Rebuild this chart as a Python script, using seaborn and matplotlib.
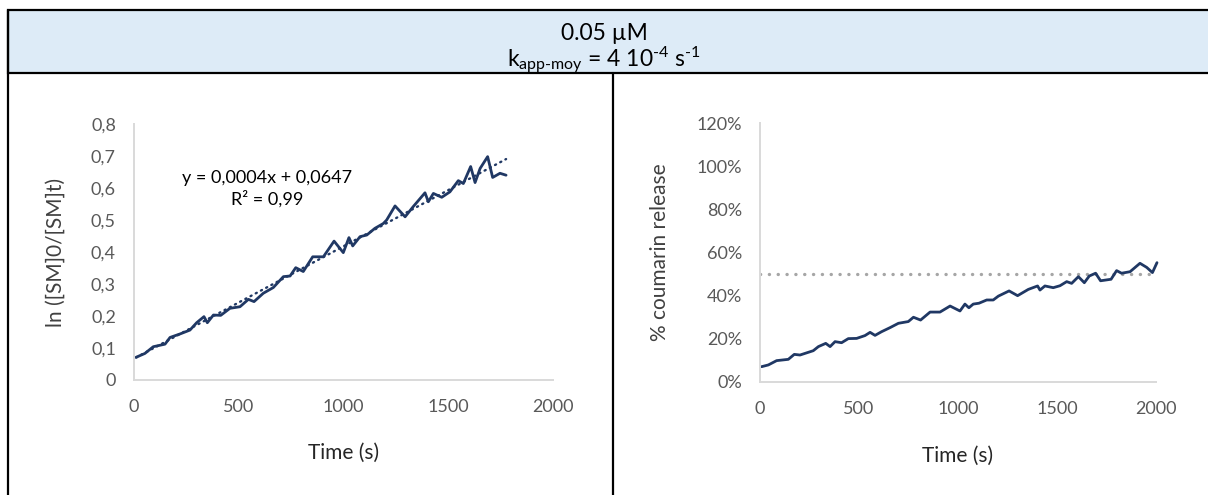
"""
Coumarin release kinetics at 0.05 uM: linearised plot and % release
"""

import numpy as np
import pandas as pd
import matplotlib
matplotlib.use("Agg")
import matplotlib.pyplot as plt
from matplotlib.patches import Rectangle
from matplotlib.lines import Line2D
import seaborn as sns

# ---- data ----
time_ln = [10, 52, 92, 148, 172, 220, 267, 299, 334, 350, 379, 414, 458, 506,
           546, 573, 617, 665, 713, 745, 772, 808, 853, 904, 955, 999, 1026,
           1044, 1079, 1111, 1150, 1190, 1206, 1246, 1294, 1333, 1389, 1405,
           1429, 1469, 1508, 1548, 1572, 1607, 1628, 1652, 1688, 1712, 1747, 1776]
ln_ratio = [0.071, 0.083, 0.104, 0.112, 0.133, 0.144, 0.156, 0.179, 0.198, 0.179,
            0.203, 0.202, 0.224, 0.229, 0.252, 0.245, 0.271, 0.289, 0.323, 0.325,
            0.351, 0.339, 0.385, 0.385, 0.434, 0.398, 0.445, 0.419, 0.448, 0.453,
            0.474, 0.489, 0.500, 0.544, 0.510, 0.542, 0.585, 0.557, 0.583, 0.571,
            0.588, 0.623, 0.614, 0.667, 0.617, 0.661, 0.698, 0.633, 0.646, 0.640]

time_pct = [8, 42, 84, 143, 173, 202, 269, 295, 332, 354, 379, 412, 446, 488, 530,
            556, 581, 614, 657, 699, 749, 775, 811, 859, 909, 960, 1010, 1035,
            1055, 1077, 1106, 1145, 1178, 1204, 1258, 1301, 1355, 1402, 1414,
            1439, 1481, 1515, 1549, 1574, 1608, 1638, 1663, 1695, 1720, 1773,
            1801, 1826, 1869, 1919, 1953, 1982, 2005]
release = [0.071, 0.079, 0.099, 0.105, 0.128, 0.125, 0.145, 0.164, 0.179, 0.164,
           0.187, 0.182, 0.201, 0.202, 0.215, 0.230, 0.216, 0.233, 0.252, 0.272,
           0.280, 0.300, 0.287, 0.324, 0.324, 0.352, 0.329, 0.361, 0.344, 0.361,
           0.365, 0.380, 0.380, 0.398, 0.422, 0.400, 0.429, 0.445, 0.426, 0.445,
           0.437, 0.446, 0.465, 0.457, 0.488, 0.460, 0.491, 0.504, 0.469, 0.476,
           0.516, 0.504, 0.511, 0.550, 0.531, 0.507, 0.553]
half_release = 0.5

ln_ticks = [0, 0.1, 0.2, 0.3, 0.4, 0.5, 0.6, 0.7, 0.8]
pct_ticks = [0, 0.2, 0.4, 0.6, 0.8, 1.0, 1.2]
time_ticks = [0, 500, 1000, 1500, 2000]

title_conc = "0.05 µM"
title_k = r"k$_{\mathregular{app‐moy}}$ = 4 10$^{\mathregular{‐4}}$ s$^{\mathregular{‐1}}$"
fit_label = "y = 0,0004x + 0,0647\nR² = 0,99"

# ---- style ----
sns.set_theme(style="white")
plt.rcParams['font.family'] = ['Lato', 'DejaVu Sans']
plt.rcParams['mathtext.default'] = 'regular'

NAVY = '#203864'
TICK = '#595959'
AXIS = '#D9D9D9'
W, H = 1208, 495


def fx(px):
    return px / W


def fy(py):
    return 1 - py / H


fig = plt.figure(figsize=(W / 100, H / 100), dpi=100)
fig.patch.set_facecolor('white')

# header band and cell borders
fig.add_artist(Rectangle((fx(8), fy(73)), fx(W), fy(10) - fy(73),
                         facecolor='#DDEBF7', edgecolor='black', lw=1.6,
                         transform=fig.transFigure))
fig.add_artist(Line2D([fx(8), fx(8)], [fy(10), fy(H + 5)], color='black', lw=1.6,
                      transform=fig.transFigure))
fig.add_artist(Line2D([fx(613), fx(613)], [fy(73), fy(H + 5)], color='black', lw=1.6,
                      transform=fig.transFigure))
fig.text(fx(604), fy(33), title_conc, ha='center', va='center', fontsize=16.5, color='black')
fig.text(fx(604), fy(60), title_k, ha='center', va='center', fontsize=16.5, color='black')

ax1 = fig.add_axes([fx(134), fy(380), fx(553) - fx(134), fy(124) - fy(380)])
ax2 = fig.add_axes([fx(760), fy(382), fx(1156) - fx(760), fy(123) - fy(382)])

# left: ln([SM]0/[SM]t) with linear trendline
df_ln = pd.DataFrame({'t': time_ln, 'v': ln_ratio})
sns.lineplot(data=df_ln, x='t', y='v', ax=ax1, color=NAVY, lw=2.0,
             solid_joinstyle='round')
sns.regplot(data=df_ln, x='t', y='v', ax=ax1, scatter=False, ci=None,
            line_kws=dict(color=NAVY, ls=(0, (0.5, 2.0)), lw=1.7,
                          dash_capstyle='round'))
ax1.text(0.317, 0.745, fit_label, transform=ax1.transAxes, ha='center', va='center',
         fontsize=13, color='black', linespacing=1.3)
ax1.set_xlim(0, 2000)
ax1.set_ylim(0, 0.8)
ax1.set_yticks(ln_ticks)
ax1.set_yticklabels([f"{v:g}".replace('.', ',') for v in ln_ticks])
ax1.set_ylabel("ln ([SM]0/[SM]t)")
ax1.yaxis.set_label_coords(-0.162, 0.5)

# right: % coumarin release with 50 % reference
df_pct = pd.DataFrame({'t': time_pct, 'p': release})
ax2.axhline(half_release, color='#A6A6A6', ls=(0, (0.05, 2.6)), lw=2.4,
            dash_capstyle='round')
sns.lineplot(data=df_pct, x='t', y='p', ax=ax2, color=NAVY, lw=2.0, clip_on=False,
             solid_joinstyle='round')
ax2.set_xlim(0, 2000)
ax2.set_ylim(0, 1.2)
ax2.set_yticks(pct_ticks)
ax2.set_yticklabels([f"{v * 100:.0f}%" for v in pct_ticks])
ax2.set_ylabel("% coumarin release")
ax2.yaxis.set_label_coords(-0.227, 0.5)

for ax in (ax1, ax2):
    ax.set_xticks(time_ticks)
    ax.set_xlabel("Time (s)")
    ax.xaxis.set_label_coords(0.5, -0.245)
    ax.xaxis.label.set_size(15)
    ax.yaxis.label.set_size(15)
    ax.xaxis.label.set_color('#262626')
    ax.yaxis.label.set_color('#404040')
    ax.tick_params(axis='both', length=0, labelsize=13, labelcolor=TICK)
    ax.tick_params(axis='y', pad=13)
    ax.tick_params(axis='x', pad=14)
    ax.set_facecolor('none')
    sns.despine(ax=ax)
    for side in ('left', 'bottom'):
        ax.spines[side].set_color(AXIS)
        ax.spines[side].set_linewidth(1.4)
    ax.grid(False)

plt.savefig("out.png", dpi=100)
